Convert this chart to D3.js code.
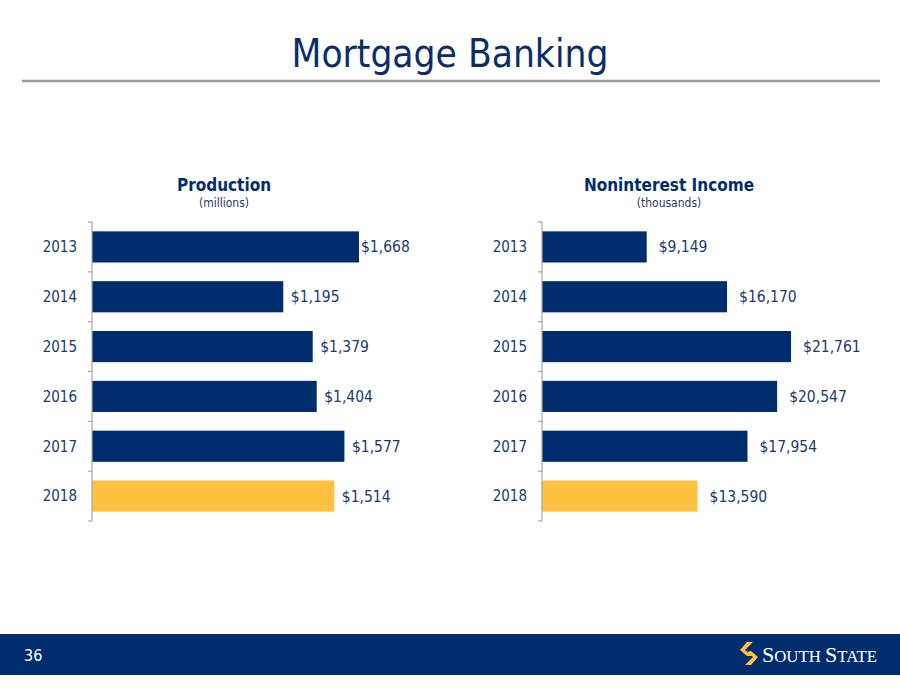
<!DOCTYPE html>
<html><head><meta charset="utf-8">
<script src="https://cdn.jsdelivr.net/npm/d3@7"></script>
<style>html,body{margin:0;padding:0;background:#fff;}svg{display:block;}</style>
</head><body>
<script>
const years = ["2013","2014","2015","2016","2017","2018"];
const production = [1668, 1195, 1379, 1404, 1577, 1514];
const noninterest = [9149, 16170, 21761, 20547, 17954, 13590];
const highlightYear = "2018";
const pageTitle = "Mortgage Banking";
const chartTitles = ["Production", "Noninterest Income"];
const chartSubtitles = ["(millions)", "(thousands)"];
const pageNumber = "36";

const NAVY = "#002D6E", GOLD = "#FFC140", TEXT = "#1B3A6B";
const W = 900, H = 695;
const FONT = "DejaVu Sans Condensed, DejaVu Sans";
const svg = d3.select("body").append("svg").attr("width", W).attr("height", H);
svg.append("rect").attr("width", W).attr("height", H).attr("fill", "#fff");

svg.append("text").attr("x", 450).attr("y", 67).attr("text-anchor", "middle")
  .attr("font-family", FONT).attr("font-size", 38.5)
  .attr("fill", "#0B2D6B").text(pageTitle);
svg.append("line").attr("x1", 22).attr("x2", 880).attr("y1", 81).attr("y2", 81)
  .attr("stroke", "#999").attr("stroke-width", 2.5);

const fmt = d3.format(",");
function drawChart(cfg) {
  const g = svg.append("g");
  const y = d3.scaleBand().domain(years).range([222, 521]).paddingInner(0.375).paddingOuter(0.1875);
  const x = d3.scaleLinear().domain([0, cfg.max]).range([cfg.x0, cfg.x1]);
  const step = y.step();
  g.append("text").attr("x", cfg.cx).attr("y", 191).attr("text-anchor", "middle")
    .attr("font-family", FONT).attr("font-weight", "bold")
    .attr("font-size", 17).attr("fill", NAVY).text(cfg.title);
  g.append("text").attr("x", cfg.cx).attr("y", 207).attr("text-anchor", "middle")
    .attr("font-family", FONT)
    .attr("font-size", 12).attr("fill", TEXT).text(cfg.sub);
  g.selectAll("rect.bar").data(years).join("rect").attr("class", "bar")
    .attr("x", x(0)).attr("y", d => y(d))
    .attr("width", (d, i) => x(cfg.values[i]) - x(0)).attr("height", y.bandwidth())
    .attr("fill", d => d === highlightYear ? GOLD : NAVY);
  const boundaries = d3.range(years.length + 1).map(i => y.range()[0] + i * step);
  g.append("line").attr("x1", x(0)).attr("x2", x(0)).attr("y1", boundaries[0]).attr("y2", boundaries[boundaries.length - 1])
    .attr("stroke", "#A6A6A6").attr("stroke-width", 1.2);
  g.selectAll("line.tick").data(boundaries).join("line").attr("class", "tick")
    .attr("x1", x(0) - 4).attr("x2", x(0)).attr("y1", d => d).attr("y2", d => d)
    .attr("stroke", "#A6A6A6").attr("stroke-width", 1.2);
  g.selectAll("text.cat").data(years).join("text").attr("class", "cat")
    .attr("x", x(0) - 15).attr("y", d => y(d) + y.bandwidth() / 2).attr("dy", "0.36em")
    .attr("text-anchor", "end").attr("font-family", FONT)
    .attr("font-size", 15).attr("fill", TEXT).text(d => d);
  g.selectAll("text.val").data(years).join("text").attr("class", "val")
    .attr("x", (d, i) => Math.min(x(cfg.values[i]) + cfg.off, cfg.labelMax))
    .attr("y", d => y(d) + y.bandwidth() / 2).attr("dy", "0.36em")
    .attr("font-family", FONT)
    .attr("font-size", 15.5).attr("fill", TEXT).text((d, i) => "$" + fmt(cfg.values[i]));
}
drawChart({values: production, max: 1800, x0: 92, x1: 380.1, cx: 224, title: chartTitles[0], sub: chartSubtitles[0], off: 7.5, labelMax: 361});
drawChart({values: noninterest, max: 25000, x0: 542, x1: 828.1, cx: 669, title: chartTitles[1], sub: chartSubtitles[1], off: 12, labelMax: 900});

svg.append("rect").attr("x", 0).attr("y", 634).attr("width", W).attr("height", 41).attr("fill", NAVY);
svg.append("text").attr("x", 24).attr("y", 661).attr("font-family", FONT)
  .attr("font-size", 16).attr("fill", "#fff").text(pageNumber);
const logo = svg.append("g").attr("transform", "translate(740,642)").attr("fill", GOLD);
logo.append("path").attr("d", "M7,0 L13,0 L5,8 L12,14 L7,14 L0,8 Z");
logo.append("path").attr("d", "M11,9 L18,15 L11,23 L5,23 L13,15 L7,10 Z");
const logoText = svg.append("text").attr("x", 762).attr("y", 662)
  .attr("font-family", "Liberation Serif, serif").attr("fill", "#fff");
logoText.append("tspan").attr("font-size", 22).text("S");
logoText.append("tspan").attr("font-size", 16.8).text("OUTH ");
logoText.append("tspan").attr("font-size", 22).text("S");
logoText.append("tspan").attr("font-size", 16.8).text("TATE");
</script>
</body></html>
